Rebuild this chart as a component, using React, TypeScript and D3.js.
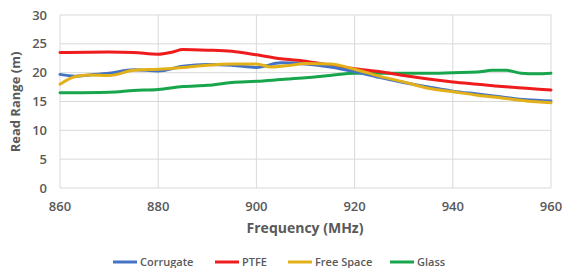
import React, { useEffect, useRef } from "react";
import * as d3 from "d3";

const corrugateFreq = [860, 863, 866, 870, 875, 880, 885, 890, 895, 900, 905, 910, 915, 920, 925, 930, 935, 940, 945, 950, 955, 960];
const corrugate = [19.7, 19.4, 19.6, 19.9, 20.5, 20.3, 21.1, 21.4, 21.3, 20.9, 21.7, 21.5, 21.0, 20.2, 19.2, 18.3, 17.5, 16.8, 16.3, 15.8, 15.3, 15.1];

const ptfeFreq = [860, 870, 875, 880, 883, 885, 890, 895, 900, 905, 910, 915, 920, 925, 930, 935, 940, 945, 950, 955, 960];
const ptfe = [23.5, 23.6, 23.5, 23.2, 23.6, 24.0, 23.9, 23.7, 23.1, 22.4, 22.0, 21.3, 20.7, 20.2, 19.5, 18.9, 18.4, 18.0, 17.6, 17.3, 17.0];

const freeSpaceFreq = [860, 863, 866, 870, 875, 880, 885, 890, 895, 900, 903, 907, 910, 915, 920, 925, 930, 935, 940, 945, 950, 955, 960];
const freeSpace = [18.0, 19.3, 19.6, 19.5, 20.4, 20.6, 20.9, 21.3, 21.5, 21.5, 21.0, 21.3, 21.6, 21.5, 20.6, 19.4, 18.4, 17.3, 16.7, 16.1, 15.6, 15.1, 14.8];

const glassFreq = [860, 870, 875, 880, 885, 890, 895, 900, 905, 910, 915, 920, 925, 930, 935, 940, 945, 948, 951, 954, 957, 960];
const glass = [16.5, 16.6, 16.9, 17.1, 17.6, 17.8, 18.3, 18.5, 18.8, 19.1, 19.5, 19.9, 19.9, 19.9, 19.9, 20.0, 20.1, 20.4, 20.4, 19.9, 19.8, 19.9];

const xTicks = [860, 880, 900, 920, 940, 960];
const yTicks = [0, 5, 10, 15, 20, 25, 30];

const seriesNames = ["Corrugate", "PTFE", "Free Space", "Glass"];
const seriesColors = ["#4472C4", "#EE1C1C", "#E2B019", "#17A64B"];

function App() {
  const ref = useRef<SVGSVGElement>(null);

  useEffect(() => {
    const svg = d3.select(ref.current);
    svg.selectAll("*").remove();

    const font = "'Open Sans', sans-serif";
    const grey = "#595959";

    const x = d3.scaleLinear().domain([860, 960]).range([60, 551]);
    const y = d3.scaleLinear().domain([0, 30]).range([188, 15]);

    const grid = svg.append("g");
    grid.selectAll(".hg").data(yTicks).join("line")
      .attr("x1", x(860)).attr("x2", x(960))
      .attr("y1", d => y(d)).attr("y2", d => y(d))
      .attr("stroke", "#d9d9d9").attr("stroke-width", 1);
    grid.selectAll(".vg").data(xTicks).join("line")
      .attr("x1", d => x(d)).attr("x2", d => x(d))
      .attr("y1", y(0)).attr("y2", y(30))
      .attr("stroke", "#d9d9d9").attr("stroke-width", 1);

    svg.append("g").selectAll("text").data(yTicks).join("text")
      .attr("x", 47).attr("y", d => y(d)).attr("dy", "0.35em")
      .attr("text-anchor", "end")
      .style("font-family", font).style("font-size", "13px").style("font-weight", 600)
      .attr("fill", grey).text(d => d);

    svg.append("g").selectAll("text").data(xTicks).join("text")
      .attr("x", d => x(d)).attr("y", 206).attr("dy", "0.35em")
      .attr("text-anchor", "middle")
      .style("font-family", font).style("font-size", "13px").style("font-weight", 600)
      .attr("fill", grey).text(d => d);

    svg.append("text")
      .attr("x", 305).attr("y", 228).attr("dy", "0.35em")
      .attr("text-anchor", "middle")
      .style("font-family", font).style("font-size", "14px").style("font-weight", 700)
      .attr("fill", grey).text("Frequency (MHz)");

    svg.append("text")
      .attr("transform", "translate(15,102) rotate(-90)")
      .attr("dy", "0.35em")
      .attr("text-anchor", "middle")
      .style("font-family", font).style("font-size", "13px").style("font-weight", 700)
      .attr("fill", grey).text("Read Range (m)");

    const freqs = [corrugateFreq, ptfeFreq, freeSpaceFreq, glassFreq];
    const vals = [corrugate, ptfe, freeSpace, glass];
    const line = d3.line<[number, number]>()
      .x(d => x(d[0])).y(d => y(d[1]))
      .curve(d3.curveMonotoneX);

    // draw order: glass, ptfe, corrugate, free space on top
    [3, 1, 0, 2].forEach(i => {
      const pts = freqs[i].map((f, j) => [f, vals[i][j]] as [number, number]);
      svg.append("path")
        .datum(pts)
        .attr("d", line)
        .attr("fill", "none")
        .attr("stroke", seriesColors[i])
        .attr("stroke-width", 3)
        .attr("stroke-linejoin", "round")
        .attr("stroke-linecap", "round");
    });

    const legendX = [113, 215, 288, 390];
    const lg = svg.append("g");
    seriesNames.forEach((name, i) => {
      lg.append("line")
        .attr("x1", legendX[i]).attr("x2", legendX[i] + 24)
        .attr("y1", 262).attr("y2", 262)
        .attr("stroke", seriesColors[i]).attr("stroke-width", 3);
      lg.append("text")
        .attr("x", legendX[i] + 27).attr("y", 262).attr("dy", "0.35em")
        .style("font-family", font).style("font-size", "11px").style("font-weight", 600)
        .attr("fill", grey).text(name);
    });
  }, []);

  return <svg ref={ref} width={562} height={268} style={{ display: "block", position: "absolute", left: 0, top: 0 }} />;
}

export default App;
